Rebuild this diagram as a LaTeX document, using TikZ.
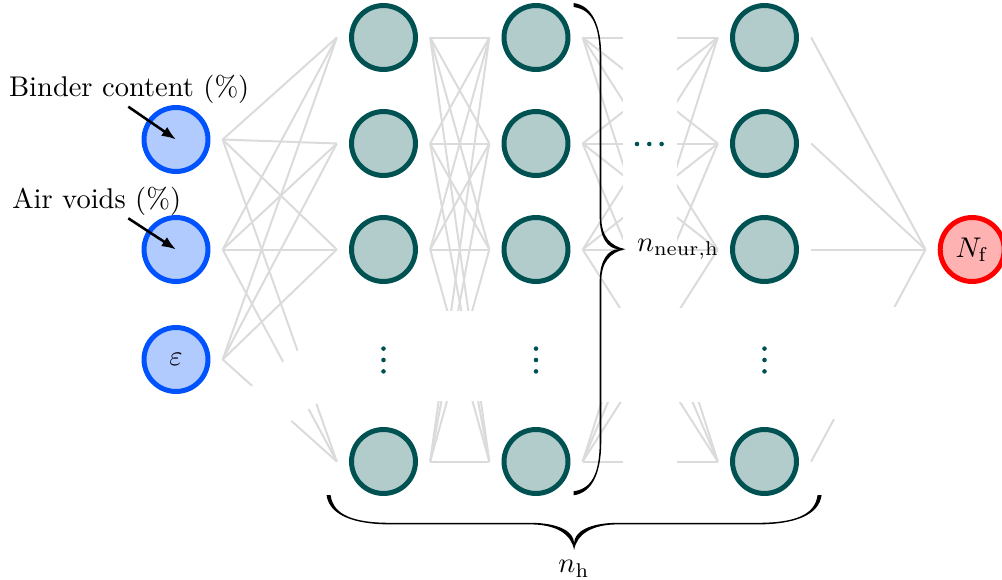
\documentclass[tikz,border=0pt]{standalone}
\usetikzlibrary{arrows.meta}
\definecolor{inblue}{RGB}{0,82,255}
\definecolor{hidteal}{RGB}{0,82,82}
\definecolor{outred}{RGB}{255,0,0}
\definecolor{linkgray}{RGB}{219,219,219}
\tikzset{
  neuron/.style={circle, minimum size=22.45pt, inner sep=0pt, line width=1.75pt, outer sep=5.16pt},
  innode/.style={neuron, draw=inblue, fill=inblue!30},
  hidnode/.style={neuron, draw=hidteal, fill=hidteal!30},
  outnode/.style={neuron, draw=outred, fill=outred!30},
  link/.style={draw=linkgray, line width=0.7pt},
  masking/.style={fill=white, draw=none},
  dotmark/.style={fill=hidteal},
  lbl/.style={inner sep=1pt},
  pointer/.style={-{Latex[length=5pt,width=3.8pt]}, line width=0.9pt},
}
% filled brace: #1 length, #2 offset of straight part, #3 tip offset, #4 hook length, #5 tip-curve length
\newcommand{\bracefill}[5]{%
  \pgfmathsetmacro{\brLen}{#1}%
  \pgfmathsetmacro{\brMid}{#1/2}%
  \pgfmathsetmacro{\brAmp}{#2}%
  \pgfmathsetmacro{\brTip}{#3}%
  \pgfmathsetmacro{\brHook}{#4}%
  \pgfmathsetmacro{\brTl}{#5}%
  \pgfmathsetmacro{\brOut}{#2+0.8}%
  \pgfmathsetmacro{\brIn}{#2-0.8}%
  \pgfmathsetmacro{\brCo}{#2+0.4*(#3-#2)}%
  \pgfmathsetmacro{\brCi}{#2+0.3*(#3-#2)}%
  \fill (0,-2) .. controls ({0.7*\brAmp},0.5) and (\brOut,{0.4*\brHook}) .. (\brOut,\brHook)
    -- (\brOut,{\brMid-\brTl}) .. controls (\brOut,{\brMid-0.4*\brTl}) and (\brCo,{\brMid-2.8}) .. (\brTip,\brMid)
    .. controls (\brCo,{\brMid+2.8}) and (\brOut,{\brMid+0.4*\brTl}) .. (\brOut,{\brMid+\brTl})
    -- (\brOut,{\brLen-\brHook}) .. controls (\brOut,{\brLen-0.4*\brHook}) and ({0.7*\brAmp},{\brLen-0.5}) .. (0,{\brLen+2})
    -- (0,{\brLen-2}) .. controls ({0.7*\brAmp},{\brLen-4.5}) and (\brIn,{\brLen-0.4*\brHook}) .. (\brIn,{\brLen-\brHook})
    -- (\brIn,{\brMid+\brTl}) .. controls (\brIn,{\brMid+0.35*\brTl}) and (\brCi,{\brMid+0.3}) .. ({\brTip-7},\brMid)
    .. controls (\brCi,{\brMid-0.3}) and (\brIn,{\brMid-0.35*\brTl}) .. (\brIn,{\brMid-\brTl})
    -- (\brIn,\brHook) .. controls (\brIn,{0.4*\brHook}) and ({0.7*\brAmp},4.5) .. (0,2) -- cycle;
}
\begin{document}
\begin{tikzpicture}[x=0.351pt,y=-0.351pt]
\useasboundingbox (0,0) rectangle (1002,580);
% input layer
\node[innode] (i1) at (176,139.5) {};
\node[innode] (i2) at (176,249.5) {};
\node[innode] (i3) at (176,359.5) {$\varepsilon$};
% hidden layers
\foreach \L/\x in {1/383.5,2/536,3/764.5}{
  \foreach \r/\y in {1/37.5,2/143.5,3/249.5,5/461.5}{
    \node[hidnode] (h\L-\r) at (\x,\y) {};
  }
}
% output
\node[outnode] (o) at (972.2,249.5) {$N_{\mathrm{f}}$};
% connections
\foreach \i in {1,2,3}{
  \foreach \j in {1,2,3,5}{
    \draw[link] (i\i.east) -- (h1-\j.west);
  }
}
\foreach \i in {1,2,3,5}{
  \foreach \j in {1,2,3,5}{
    \draw[link] (h1-\i.east) -- (h2-\j.west);
    \draw[link] (h2-\i.east) -- (h3-\j.west);
  }
  \draw[link] (h3-\i.east) -- (o.west);
}
% gaps implying omitted neurons
\fill[masking] (240,395.5) -- (330,325.6) -- (330,394.2) -- (240,456) -- cycle;
\fill[masking] (427,310.7) rectangle (492,401);
\fill[masking] (584,308.3) rectangle (717,401.7);
\fill[masking] (622.7,0) rectangle (676.7,480);
\fill[masking] (815,306.7) rectangle (920,419);
% dots (omitted neurons / layers)
\foreach \x in {383.5,536,764.5}{
  \foreach \y in {348.6,360,371.4}{
    \fill[dotmark] (\x,\y) circle (2.3);
  }
}
\foreach \x in {637,649.3,661.6}{
  \fill[dotmark] (\x,144) circle (2.3);
}
% input labels
\node[lbl] (lb1) at (129.2,88.9) {Binder content (\%)};
\node[lbl] (lb2) at (96.7,201.2) {Air voids (\%)};
\coordinate (a1) at (128.3,106.7);
\coordinate (a2) at (128.3,218.3);
\draw[pointer] (a1) -- (i1.center);
\draw[pointer] (a2) -- (i2.center);
% vertical brace
\begin{scope}[shift={(573.5,5)}]
  \bracefill{488.3}{27}{52}{52}{32}
\end{scope}
\node[anchor=west] (nn) at (627,249.5) {$n_{\mathrm{neur,h}}$};
% horizontal brace
\begin{scope}[shift={(328.6,495)}]
  \begin{scope}[x={(0pt,-0.351pt)},y={(0.351pt,0pt)}]
    \bracefill{491}{28.6}{55}{62}{44}
  \end{scope}
\end{scope}
\node[anchor=north] (nh) at (574,550.5) {$n_{\mathrm{h}}$};
\end{tikzpicture}
\end{document}
